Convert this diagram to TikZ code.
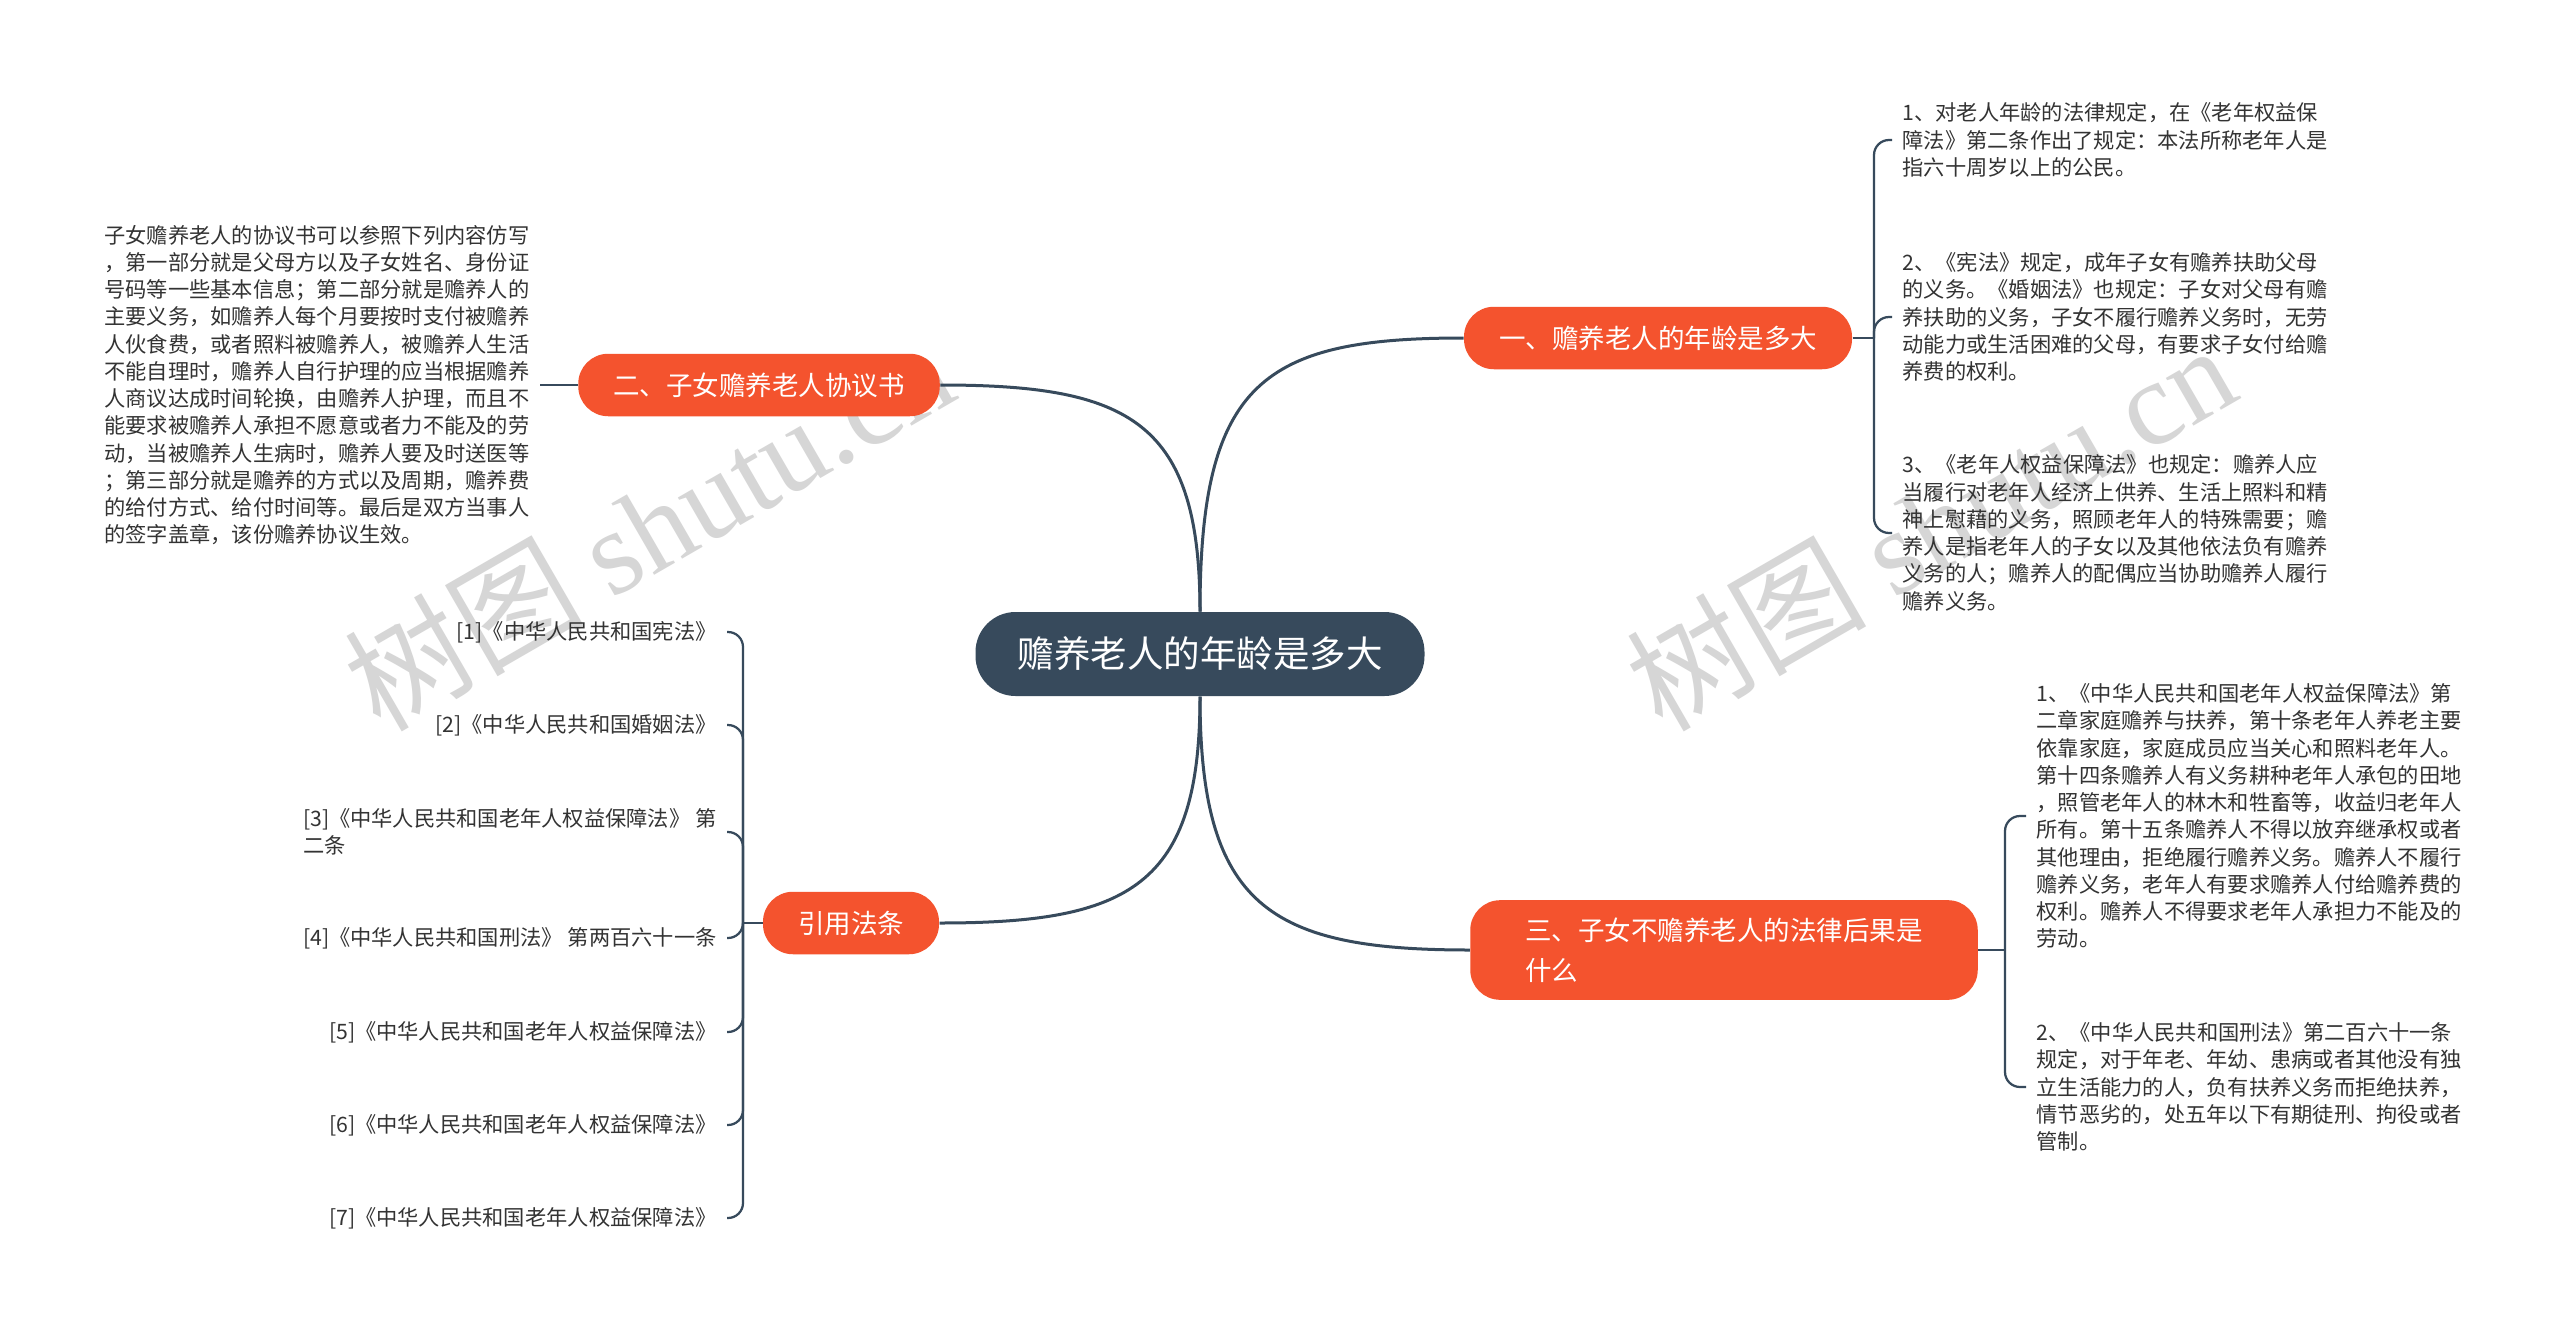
\documentclass[tikz,border=0pt]{standalone}
\usepackage{fontspec}
\setmainfont{Noto Sans CJK SC}
\newfontfamily\wmfont{Liberation Serif}
\usetikzlibrary{positioning,calc}
\definecolor{hubcol}{HTML}{374A5C}
\definecolor{branchcol}{HTML}{F4532E}
\definecolor{leaftext}{HTML}{333333}
\definecolor{wmgray}{HTML}{D6D6D6}

\begin{document}
\begin{tikzpicture}[
  x=0.4pt, y=-0.4pt,
  every node/.style = {align=left},
  rootbox/.style = {fill=hubcol, text=white, rounded corners=16pt, minimum height=33.6pt,
    inner xsep=16.8pt, font=\fontsize{14.6}{18}\selectfont},
  branchbox/.style = {fill=branchcol, text=white, rounded corners=12pt, minimum height=25pt,
    inner xsep=14pt, inner ysep=7pt, font=\fontsize{10.6}{16}\selectfont},
  leafnote/.style = {text=leaftext, inner sep=4pt, font=\fontsize{8.5}{10.9}\selectfont},
  trunk/.style = {draw=hubcol, line width=1.2pt},
  twig/.style = {draw=hubcol, line width=0.9pt, rounded corners=6pt},
  stamp/.style = {text=wmgray, rotate=30, font=\fontsize{48}{48}\selectfont}
]
  \fill[white] (0,0) rectangle (2560,1333);
  \node[stamp] (wm1) at (648,526) {树图 {\wmfont shutu.cn}};
  \node[stamp] (wm2) at (1930,526) {树图 {\wmfont shutu.cn}};

  \node[rootbox] (root) at (1200,654) {赡养老人的年龄是多大};
  \node[branchbox] (age) at (1658,338) {一、赡养老人的年龄是多大};
  \node[branchbox] (deal) at (759,385) {二、子女赡养老人协议书};
  \node[branchbox, inner xsep=22pt] (duty) at (1724,950) {三、子女不赡养老人的法律后果是\\什么};
  \node[branchbox] (laws) at (851,923) {引用法条};

  \draw[trunk] (root.north) .. controls ($(root.north)+(0,-230)$) and ($(age.west)+(-200,0)$) .. (age.west);
  \draw[trunk] (root.north) .. controls ($(root.north)+(0,-190)$) and ($(deal.east)+(190,0)$) .. (deal.east);
  \draw[trunk] (root.south) .. controls ($(root.south)+(0,210)$) and ($(duty.west)+(-200,0)$) .. (duty.west);
  \draw[trunk] (root.south) .. controls ($(root.south)+(0,190)$) and ($(laws.east)+(190,0)$) .. (laws.east);

  \node[leafnote, anchor=west] (age1) at (1892,140) {1、对老人年龄的法律规定，在《老年权益保\\障法》第二条作出了规定：本法所称老年人是\\指六十周岁以上的公民。};
  \node[leafnote, anchor=west] (age2) at (1892,317) {2、《宪法》规定，成年子女有赡养扶助父母\\的义务。《婚姻法》也规定：子女对父母有赡\\养扶助的义务，子女不履行赡养义务时，无劳\\动能力或生活困难的父母，有要求子女付给赡\\养费的权利。};
  \node[leafnote, anchor=west] (age3) at (1892,533) {3、《老年人权益保障法》也规定：赡养人应\\当履行对老年人经济上供养、生活上照料和精\\神上慰藉的义务，照顾老年人的特殊需要；赡\\养人是指老年人的子女以及其他依法负有赡养\\义务的人；赡养人的配偶应当协助赡养人履行\\赡养义务。};
  \coordinate (agehub) at (1874,338);
  \draw[twig] (age.east) -- (agehub);
  \foreach \n in {age1,age2,age3} \draw[twig] (agehub) |- (\n.west);

  \node[leafnote, anchor=east] (deal1) at (540,385) {子女赡养老人的协议书可以参照下列内容仿写\\，第一部分就是父母方以及子女姓名、身份证\\号码等一些基本信息；第二部分就是赡养人的\\主要义务，如赡养人每个月要按时支付被赡养\\人伙食费，或者照料被赡养人，被赡养人生活\\不能自理时，赡养人自行护理的应当根据赡养\\人商议达成时间轮换，由赡养人护理，而且不\\能要求被赡养人承担不愿意或者力不能及的劳\\动，当被赡养人生病时，赡养人要及时送医等\\；第三部分就是赡养的方式以及周期，赡养费\\的给付方式、给付时间等。最后是双方当事人\\的签字盖章，该份赡养协议生效。};
  \draw[twig] (deal.west) -- (deal1.east);

  \node[leafnote, anchor=west] (duty1) at (2026,816) {1、《中华人民共和国老年人权益保障法》第\\二章家庭赡养与扶养，第十条老年人养老主要\\依靠家庭，家庭成员应当关心和照料老年人。\\第十四条赡养人有义务耕种老年人承包的田地\\，照管老年人的林木和牲畜等，收益归老年人\\所有。第十五条赡养人不得以放弃继承权或者\\其他理由，拒绝履行赡养义务。赡养人不履行\\赡养义务，老年人有要求赡养人付给赡养费的\\权利。赡养人不得要求老年人承担力不能及的\\劳动。};
  \node[leafnote, anchor=west] (duty2) at (2026,1087) {2、《中华人民共和国刑法》第二百六十一条\\规定，对于年老、年幼、患病或者其他没有独\\立生活能力的人，负有扶养义务而拒绝扶养，\\情节恶劣的，处五年以下有期徒刑、拘役或者\\管制。};
  \coordinate (dutyhub) at (2005,950);
  \draw[twig] (duty.east) -- (dutyhub);
  \foreach \n in {duty1,duty2} \draw[twig] (dutyhub) |- (\n.west);

  \node[leafnote, anchor=east] (law1) at (727,632) {[1]《中华人民共和国宪法》};
  \node[leafnote, anchor=east] (law2) at (727,725) {[2]《中华人民共和国婚姻法》};
  \node[leafnote, anchor=east] (law3) at (727,832) {[3]《中华人民共和国老年人权益保障法》 第\\二条};
  \node[leafnote, anchor=east] (law4) at (727,938) {[4]《中华人民共和国刑法》 第两百六十一条};
  \node[leafnote, anchor=east] (law5) at (727,1032) {[5]《中华人民共和国老年人权益保障法》};
  \node[leafnote, anchor=east] (law6) at (727,1125) {[6]《中华人民共和国老年人权益保障法》};
  \node[leafnote, anchor=east] (law7) at (727,1218) {[7]《中华人民共和国老年人权益保障法》};
  \coordinate (lawhub) at (743,923);
  \draw[twig] (laws.west) -- (lawhub);
  \foreach \n in {law1,law2,law3,law4,law5,law6,law7} \draw[twig] (lawhub) |- (\n.east);
\end{tikzpicture}
\end{document}
